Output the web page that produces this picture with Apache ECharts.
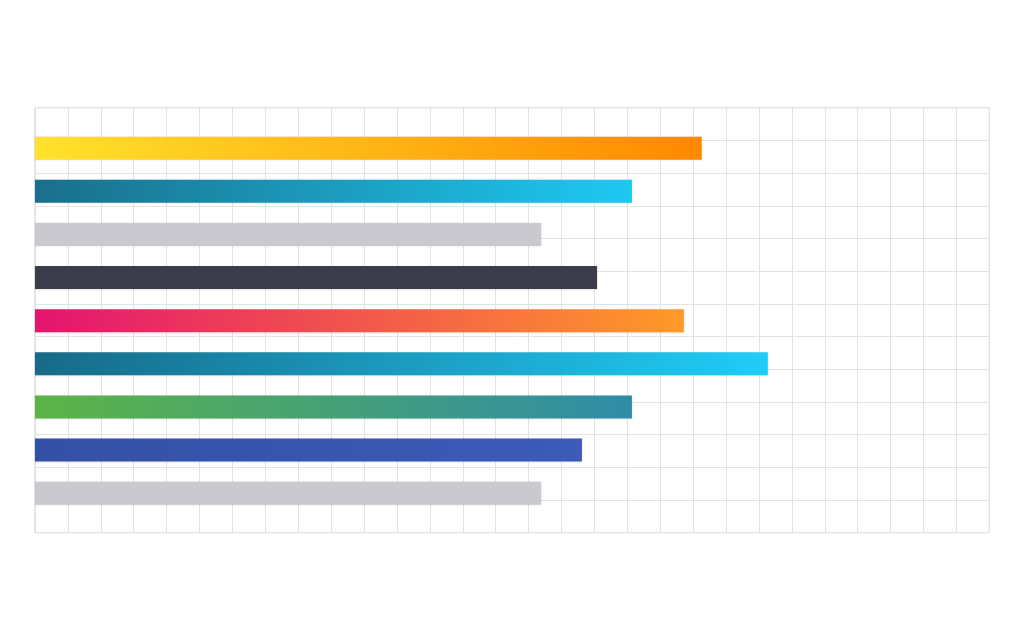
<!DOCTYPE html>
<html>
<head>
<meta charset="utf-8">
<script src="https://cdn.jsdelivr.net/npm/echarts@6/dist/echarts.min.js"></script>
<style>
html,body{margin:0;padding:0;background:#fff;}
#c{width:1024px;height:641px;}
</style>
</head>
<body>
<div id="c"></div>
<script>
// Data
var categories = ['A', 'B', 'C', 'D', 'E', 'F', 'G', 'H', 'I'];
var values = [20.26, 18.14, 15.38, 17.08, 19.72, 22.27, 18.14, 16.62, 15.38];
var xMax = 29;   // columns of the lattice
var yMax = 13;   // rows of the lattice

// Styles (gradient start / end per bar)
var startColors = ['#FFE22C', '#1A6F8B', '#C9C9CF', '#3B3D4A', '#E4146F', '#176A88', '#5CB447', '#3450A6', '#C9C9CF'];
var endColors   = ['#FF8800', '#1DC9F2', '#C9C9CF', '#3B3D4A', '#FF9A28', '#1FCDF7', '#2F8CA8', '#3C5BB8', '#C9C9CF'];

var chart = echarts.init(document.getElementById('c'), null, {renderer: 'canvas'});

var barData = values.map(function (v, i) {
  return {
    value: v,
    itemStyle: {
      color: new echarts.graphic.LinearGradient(0, 0, 1, 0, [
        {offset: 0, color: startColors[i]},
        {offset: 1, color: endColors[i]}
      ])
    }
  };
});

chart.setOption({
  animation: false,
  backgroundColor: '#ffffff',
  grid: [
    {left: 35, right: 34.7, top: 107.7, bottom: 108.3, show: true, borderColor: '#cdcdcd', borderWidth: 1, backgroundColor: 'transparent'},
    {left: 35, right: 34.7, top: 126.7, bottom: 126.3}
  ],
  xAxis: [
    {gridIndex: 0, type: 'value', min: 0, max: xMax, interval: 1,
     axisLine: {show: false}, axisTick: {show: false}, axisLabel: {show: false},
     splitLine: {show: true, lineStyle: {color: '#e3e3e3', width: 1}}},
    {gridIndex: 1, type: 'value', min: 0, max: xMax,
     axisLine: {show: false}, axisTick: {show: false}, axisLabel: {show: false},
     splitLine: {show: false}}
  ],
  yAxis: [
    {gridIndex: 0, type: 'value', min: 0, max: yMax, interval: 1,
     axisLine: {show: false}, axisTick: {show: false}, axisLabel: {show: false},
     splitLine: {show: true, lineStyle: {color: '#e3e3e3', width: 1}}},
    {gridIndex: 1, type: 'category', data: categories, inverse: true,
     axisLine: {show: false}, axisTick: {show: false}, axisLabel: {show: false},
     splitLine: {show: false}}
  ],
  series: [
    {
      type: 'bar',
      xAxisIndex: 1,
      yAxisIndex: 1,
      data: barData,
      barWidth: 23,
      itemStyle: {shadowBlur: 2, shadowColor: 'rgba(0,0,0,0.12)', shadowOffsetY: 0.5}
    }
  ]
});
</script>
</body>
</html>
